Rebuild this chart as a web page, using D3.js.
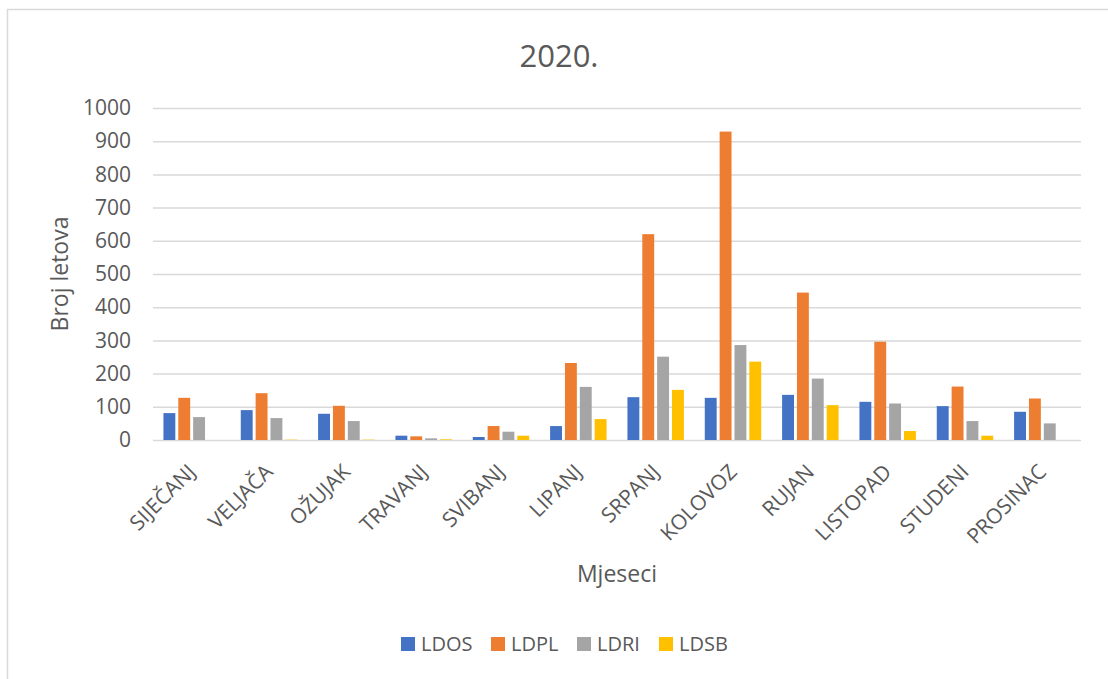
<!DOCTYPE html>
<html>
<head>
<meta charset="utf-8">
<script src="https://cdn.jsdelivr.net/npm/d3@7"></script>
<style>
  body { margin: 0; background: #fff; }
  text { font-family: "Open Sans", sans-serif; fill: #595959; }
</style>
</head>
<body>
<script>
// mjeseci i serije (broj letova po aerodromu)
var months = ["SIJEČANJ", "VELJAČA", "OŽUJAK", "TRAVANJ", "SVIBANJ", "LIPANJ",
  "SRPANJ", "KOLOVOZ", "RUJAN", "LISTOPAD", "STUDENI", "PROSINAC"];
var series = ["LDOS", "LDPL", "LDRI", "LDSB"];
var colors = ["#4472C4", "#ED7D31", "#A5A5A5", "#FFC000"];

var LDOS = [81, 90, 79, 13, 9, 42, 129, 127, 136, 115, 102, 85];
var LDPL = [127, 141, 103, 11, 42, 232, 620, 929, 444, 296, 161, 125];
var LDRI = [69, 66, 57, 5, 25, 160, 251, 286, 185, 110, 57, 50];
var LDSB = [0, 1, 1, 2, 13, 63, 151, 236, 105, 27, 13, 0];
var yTicks = [0, 100, 200, 300, 400, 500, 600, 700, 800, 900, 1000];

var values = [LDOS, LDPL, LDRI, LDSB];
var w = 1108, h = 679;

var svg = d3.select("body").append("svg")
  .attr("width", w)
  .attr("height", h);

// okvir grafikona
svg.append("rect")
  .attr("x", 7.5).attr("y", 9.5)
  .attr("width", w + 10).attr("height", h + 10)
  .attr("fill", "none")
  .attr("stroke", "#D9D9D9")
  .attr("stroke-width", 1.5);

var xScale = d3.scaleBand()
  .domain(months)
  .range([153, 1081])
  .paddingInner(0.27)
  .paddingOuter(0.135);

var x1 = d3.scaleBand()
  .domain(series)
  .range([0, xScale.bandwidth()])
  .paddingInner(0.2);

var yScale = d3.scaleLinear()
  .domain([0, 1000])
  .range([440, 108]);

// y os i mreža
var yAxis = d3.axisLeft(yScale)
  .tickValues(yTicks)
  .tickFormat(d3.format("d"))
  .tickSize(-(1081 - 153))
  .tickPadding(22);

svg.append("g")
  .attr("transform", "translate(153,0)")
  .call(yAxis)
  .call(function(g) {
    g.select(".domain").remove();
    g.selectAll("line").attr("stroke", "#D9D9D9").attr("stroke-width", 1.5);
    g.selectAll("text").style("font-size", "21px").attr("fill", "#595959");
  });

// stupci
values.forEach(function(vals, s) {
  svg.append("g")
    .selectAll("rect")
    .data(vals)
    .enter()
    .append("rect")
    .attr("x", function(d, i) { return xScale(months[i]) + x1(series[s]); })
    .attr("y", function(d) { return yScale(d); })
    .attr("width", x1.bandwidth())
    .attr("height", function(d) { return yScale(0) - yScale(d); })
    .attr("fill", colors[s]);
});

// x os - nazivi mjeseci
var xAxis = d3.axisBottom(xScale).tickSize(0).tickPadding(0);
svg.append("g")
  .attr("transform", "translate(0,440)")
  .call(xAxis)
  .call(function(g) {
    g.select(".domain").remove();
    g.selectAll("text")
      .style("font-size", "21px")
      .attr("fill", "#595959")
      .attr("text-anchor", "end")
      .attr("dy", "0.35em")
      .attr("transform", "translate(0,28) rotate(-45)");
  });

// naslov
svg.append("text")
  .attr("x", 559).attr("y", 67)
  .attr("text-anchor", "middle")
  .style("font-size", "31px")
  .text("2020.");

// naslovi osi
svg.append("text")
  .attr("transform", "translate(68,274) rotate(-90)")
  .attr("text-anchor", "middle")
  .style("font-size", "23px")
  .text("Broj letova");

svg.append("text")
  .attr("x", 617).attr("y", 582)
  .attr("text-anchor", "middle")
  .style("font-size", "23px")
  .text("Mjeseci");

// legenda
var legendX = [401, 491, 577, 659];
var legend = svg.append("g")
  .selectAll("g")
  .data(series)
  .enter()
  .append("g")
  .attr("transform", function(d, i) { return "translate(" + legendX[i] + ",637)"; });

legend.append("rect")
  .attr("width", 14).attr("height", 14)
  .attr("fill", function(d, i) { return colors[i]; });

legend.append("text")
  .attr("x", 20).attr("y", 14)
  .style("font-size", "20px")
  .text(function(d) { return d; });
</script>
</body>
</html>
